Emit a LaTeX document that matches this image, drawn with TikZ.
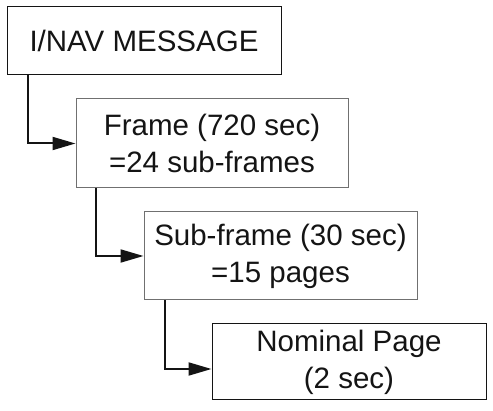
\documentclass[tikz,border=0pt]{standalone}
\usepackage{fontspec}
\setmainfont{Liberation Sans}
\usetikzlibrary{arrows.meta}
\definecolor{txt}{HTML}{141414}
\definecolor{edgegray}{HTML}{707070}
\begin{document}
\begin{tikzpicture}[x=1pt,y=-1pt,
  box/.style={draw=txt,line width=1pt,rectangle,inner sep=0pt,align=center,
    text=txt,font=\fontsize{29.5}{37}\selectfont},
  greybox/.style={box,draw=edgegray},
  conn/.style={draw=txt,line width=2pt,-{Triangle[length=23pt,width=13pt]}}]
\useasboundingbox (0,0) rectangle (493,411);
\node[box,minimum width=274pt,minimum height=68pt] (b1) at (144,41) {I/NAV MESSAGE};
\node[greybox,minimum width=272pt,minimum height=89pt] (b2) at (212,143.5) {Frame (720 sec)\\=24 sub-frames};
\node[greybox,minimum width=273pt,minimum height=88pt] (b3) at (280.5,256) {Sub-frame (30 sec)\\=15 pages};
\node[box,minimum width=274pt,minimum height=76pt] (b4) at (349,362) {Nominal Page\\(2 sec)};
\draw[conn] ([xshift=21pt]b1.south west) |- (b2.west);
\draw[conn] ([xshift=20pt]b2.south west) |- (b3.west);
\draw[conn] ([xshift=21pt]b3.south west) |- ([yshift=-7pt]b4.west);
\end{tikzpicture}
\end{document}
